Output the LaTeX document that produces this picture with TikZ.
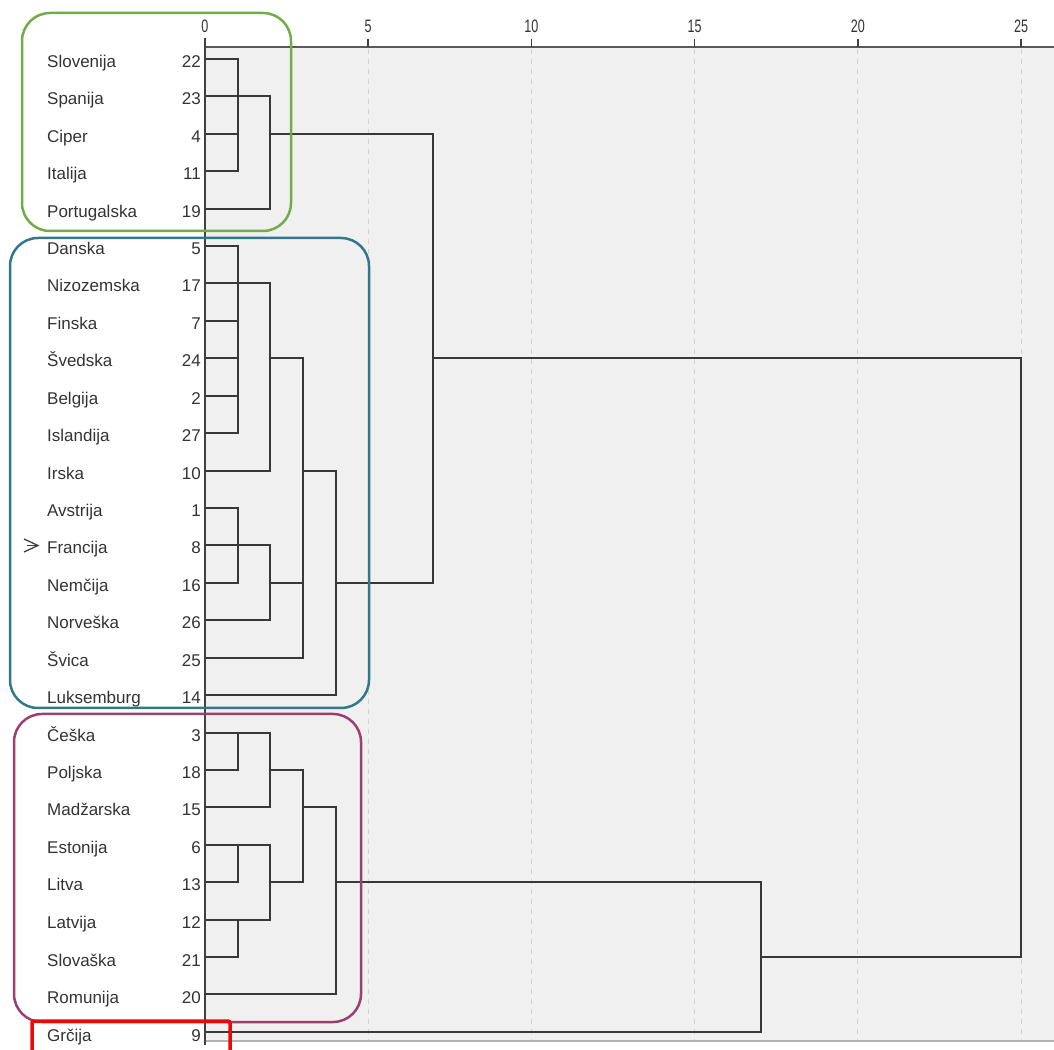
\documentclass[tikz,border=0pt]{standalone}
\usepackage{fontspec}
\setmainfont{Liberation Sans}
\usepackage{xcolor}
\usepackage{tikz}
\definecolor{grpgreen}{RGB}{112,173,71}
\definecolor{grpteal}{RGB}{49,120,140}
\definecolor{grpplum}{RGB}{155,62,112}
\definecolor{grpred}{RGB}{232,10,10}

\begin{document}
\begin{tikzpicture}[x=1pt,y=1pt,
    br/.style={line width=2pt,black!78},
    cty/.style={font=\fontsize{17}{20}\selectfont,text=black!80,anchor=base west,inner sep=0pt},
    num/.style={font=\fontsize{17}{20}\selectfont,text=black!80,anchor=base east,inner sep=0pt},
    tick/.style={font=\fontsize{18}{20}\selectfont,text=black!80,inner sep=0pt},
    grp/.style={line width=2.5pt,rounded corners=28pt}]
  \clip (0,0) rectangle (1054,1049);

  % plot area
  \fill[gray!12] (205,8) rectangle (1054,1002);
  \foreach \k in {5,10,15,20,25}
    \draw[gray!35,line width=1pt,dash pattern=on 5pt off 5pt] (205+32.64*\k,1000) -- (205+32.64*\k,8);
  \draw[gray!60,line width=1.5pt] (205,8) -- (1054,8);

  % axis on top
  \draw[gray!70!black,line width=2.5pt] (205,1002) -- (1054,1002);
  \foreach \k in {0,5,10,15,20,25} {
    \draw[black!75,line width=1.5pt] (205+32.64*\k,1002) -- (205+32.64*\k,1010);
    \node[tick] (t\k) at (205+32.64*\k,1023) {\scalebox{0.7}[1]{\k}};
  }
  \draw[black!75,line width=2pt] (205,1011) -- (205,4);

  % merge heights
  \coordinate (xa) at (238,0);
  \coordinate (xb) at (270,0);
  \coordinate (xc) at (303,0);
  \coordinate (xd) at (336,0);
  \coordinate (xe) at (433,0);
  \coordinate (xf) at (761,0);
  \coordinate (xg) at (1021,0);

  % rows: case label, case number, start of the branch
  \coordinate (r22) at (205,990); \node[cty] (c22) at (47,981) {Slovenija};   \node[num] (n22) at (201,981) {22};
  \coordinate (r23) at (205,953); \node[cty] (c23) at (47,944) {Spanija};     \node[num] (n23) at (201,944) {23};
  \coordinate (r4)  at (205,915); \node[cty] (c4)  at (47,906) {Ciper};       \node[num] (n4)  at (201,906) {4};
  \coordinate (r11) at (205,878); \node[cty] (c11) at (47,869) {Italija};     \node[num] (n11) at (201,869) {11};
  \coordinate (r19) at (205,840); \node[cty] (c19) at (47,831) {Portugalska}; \node[num] (n19) at (201,831) {19};
  \coordinate (r5)  at (205,803); \node[cty] (c5)  at (47,794) {Danska};      \node[num] (n5)  at (201,794) {5};
  \coordinate (r17) at (205,766); \node[cty] (c17) at (47,757) {Nizozemska};  \node[num] (n17) at (201,757) {17};
  \coordinate (r7)  at (205,728); \node[cty] (c7)  at (47,719) {Finska};      \node[num] (n7)  at (201,719) {7};
  \coordinate (r24) at (205,691); \node[cty] (c24) at (47,682) {Švedska};     \node[num] (n24) at (201,682) {24};
  \coordinate (r2)  at (205,653); \node[cty] (c2)  at (47,644) {Belgija};     \node[num] (n2)  at (201,644) {2};
  \coordinate (r27) at (205,616); \node[cty] (c27) at (47,607) {Islandija};   \node[num] (n27) at (201,607) {27};
  \coordinate (r10) at (205,578); \node[cty] (c10) at (47,569) {Irska};       \node[num] (n10) at (201,569) {10};
  \coordinate (r1)  at (205,541); \node[cty] (c1)  at (47,532) {Avstrija};    \node[num] (n1)  at (201,532) {1};
  \coordinate (r8)  at (205,504); \node[cty] (c8)  at (47,495) {Francija};    \node[num] (n8)  at (201,495) {8};
  \coordinate (r16) at (205,466); \node[cty] (c16) at (47,457) {Nemčija};     \node[num] (n16) at (201,457) {16};
  \coordinate (r26) at (205,429); \node[cty] (c26) at (47,420) {Norveška};    \node[num] (n26) at (201,420) {26};
  \coordinate (r25) at (205,391); \node[cty] (c25) at (47,382) {Švica};       \node[num] (n25) at (201,382) {25};
  \coordinate (r14) at (205,354); \node[cty] (c14) at (47,345) {Luksemburg};  \node[num] (n14) at (201,345) {14};
  \coordinate (r3)  at (205,316); \node[cty] (c3)  at (47,307) {Češka};       \node[num] (n3)  at (201,307) {3};
  \coordinate (r18) at (205,279); \node[cty] (c18) at (47,270) {Poljska};     \node[num] (n18) at (201,270) {18};
  \coordinate (r15) at (205,242); \node[cty] (c15) at (47,233) {Madžarska};   \node[num] (n15) at (201,233) {15};
  \coordinate (r6)  at (205,204); \node[cty] (c6)  at (47,195) {Estonija};    \node[num] (n6)  at (201,195) {6};
  \coordinate (r13) at (205,167); \node[cty] (c13) at (47,158) {Litva};       \node[num] (n13) at (201,158) {13};
  \coordinate (r12) at (205,129); \node[cty] (c12) at (47,120) {Latvija};     \node[num] (n12) at (201,120) {12};
  \coordinate (r21) at (205,92);  \node[cty] (c21) at (47,83)  {Slovaška};    \node[num] (n21) at (201,83)  {21};
  \coordinate (r20) at (205,55);  \node[cty] (c20) at (47,46)  {Romunija};    \node[num] (n20) at (201,46)  {20};
  \coordinate (r9)  at (205,17);  \node[cty] (c9)  at (47,8)   {Grčija};      \node[num] (n9)  at (201,8)   {9};

  % marker in front of Francija
  \draw[black!75,line width=1.3pt] (24,510) .. controls (31,507) .. (38,503.5) .. controls (31,500) .. (24,497);
  \draw[black!75,line width=1.3pt] (27,503.5) -- (38,503.5);

  % first cluster
  \draw[br] (r22) -| (r11 -| xa) -- (r11);
  \draw[br] (r4) -- (r4 -| xa);
  \draw[br] (r23) -| (r19 -| xb) -- (r19);
  \draw[br] (r4 -| xb) -- (r4 -| xe) |- (r16 -| xd);

  % second cluster
  \draw[br] (r5) -| (r27 -| xa) -- (r27);
  \draw[br] (r7) -- (r7 -| xa) (r24) -- (r24 -| xa) (r2) -- (r2 -| xa);
  \draw[br] (r17) -| (r10 -| xb) -- (r10);
  \draw[br] (r1) -| (r16 -| xa) -- (r16);
  \draw[br] (r8) -| (r26 -| xb) -- (r26);
  \draw[br] (r16 -| xb) -- (r16 -| xc);
  \draw[br] (r24 -| xb) -| (r25 -| xc) -- (r25);
  \draw[br] (r10 -| xc) -| (r14 -| xd) -- (r14);

  % third cluster
  \draw[br] (r3) -| (r15 -| xb) -- (r15);
  \draw[br] (r3 -| xa) |- (r18);
  \draw[br] (r6) -| (r12 -| xb) -- (r12);
  \draw[br] (r6 -| xa) |- (r13);
  \draw[br] (r12 -| xa) |- (r21);
  \draw[br] (r18 -| xb) -| (r13 -| xc) -- (r13 -| xb);
  \draw[br] (r15 -| xc) -| (r20 -| xd) -- (r20);
  \draw[br] (r13 -| xd) -| (r9 -| xf) -- (r9);

  % top joins
  \draw[br] (r24 -| xe) -| (r21 -| xg) -- (r21 -| xf);

  % group frames
  \draw[grp,grpgreen] (22,818) rectangle (291,1036);
  \draw[grp,grpteal] (10,341) rectangle (369,811);
  \draw[grp,grpplum] (14,27) rectangle (361,335);
  \draw[grpred,line width=3.5pt,rounded corners=2pt] (32,-20) rectangle (230,28);
\end{tikzpicture}
\end{document}
